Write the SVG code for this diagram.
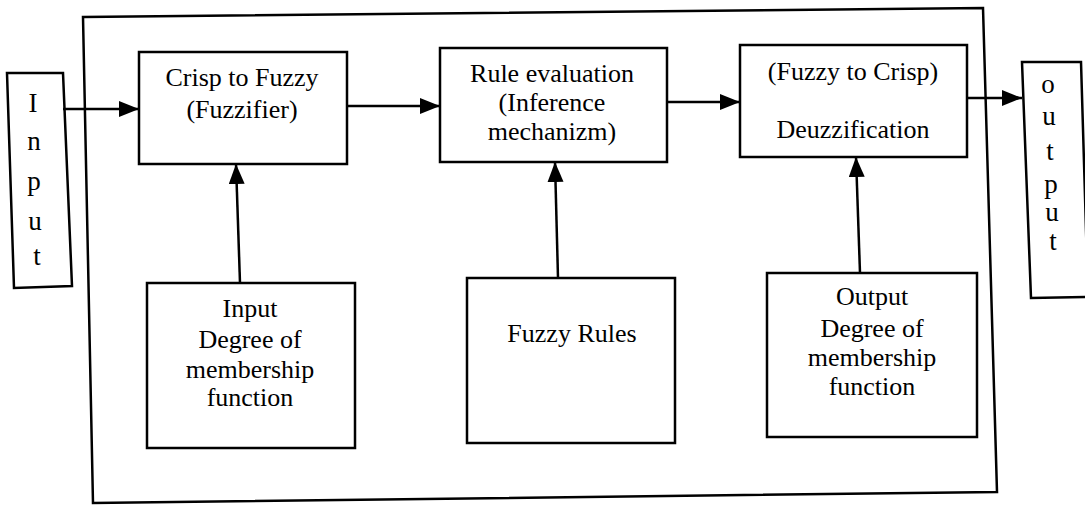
<svg xmlns="http://www.w3.org/2000/svg" width="1085" height="505" viewBox="0 0 1085 505">
<defs>
<marker id="ah" markerUnits="userSpaceOnUse" markerWidth="22" markerHeight="18" refX="20" refY="8" orient="auto">
<path d="M0,0 L20,8 L0,16 z" fill="#000"/>
</marker>
<style>
.box{fill:none;stroke:#000;stroke-width:2.5;stroke-linejoin:miter}
.t{font-family:"Liberation Serif","Times New Roman",serif;font-size:26px;fill:#000;text-anchor:middle}
.v{font-family:"Liberation Serif","Times New Roman",serif;font-size:27px;fill:#000;text-anchor:middle}
.c{fill:none;stroke:#000;stroke-width:2.5}
</style>
</defs>
<rect width="1085" height="505" fill="#fff"/>
<g id="frame">
<polygon class="box" points="83,17 983,8 997,492 93,503"/>
</g>
<g id="input">
<polygon class="box" points="7,73 63,73 72,286 14,288"/>
<text class="v" x="33" y="112">I</text>
<text class="v" x="34" y="150">n</text>
<text class="v" x="34" y="190">p</text>
<text class="v" x="35" y="230">u</text>
<text class="v" x="37" y="265">t</text>
</g>
<g id="fuzzifier">
<rect class="box" x="139" y="52" width="208" height="112"/>
<text class="t" x="242" y="86">Crisp to Fuzzy</text>
<text class="t" x="242" y="118">(Fuzzifier)</text>
</g>
<g id="rule-eval">
<rect class="box" x="440" y="48" width="227" height="114"/>
<text class="t" x="552" y="82">Rule evaluation</text>
<text class="t" x="552" y="111">(Inference</text>
<text class="t" x="552" y="140">mechanizm)</text>
</g>
<g id="defuzz">
<rect class="box" x="740" y="45" width="227" height="112"/>
<text class="t" x="853" y="80">(Fuzzy to Crisp)</text>
<text class="t" x="853" y="138">Deuzzification</text>
</g>
<g id="output">
<polygon class="box" points="1022,62 1081,62 1088,297 1031,298"/>
<text class="v" x="1048" y="93">o</text>
<text class="v" x="1049" y="125">u</text>
<text class="v" x="1050" y="160">t</text>
<text class="v" x="1051" y="193">p</text>
<text class="v" x="1052" y="221">u</text>
<text class="v" x="1053" y="250">t</text>
</g>
<g id="input-mf">
<rect class="box" x="147" y="283" width="208" height="165"/>
<text class="t" x="250" y="317">Input</text>
<text class="t" x="250" y="348">Degree of</text>
<text class="t" x="250" y="378">membership</text>
<text class="t" x="250" y="406">function</text>
</g>
<g id="fuzzy-rules">
<rect class="box" x="467" y="278" width="208" height="165"/>
<text class="t" x="572" y="342">Fuzzy Rules</text>
</g>
<g id="output-mf">
<rect class="box" x="767" y="273" width="210" height="164"/>
<text class="t" x="872" y="305">Output</text>
<text class="t" x="872" y="337">Degree of</text>
<text class="t" x="872" y="366">membership</text>
<text class="t" x="872" y="395">function</text>
</g>
<g id="connectors">
<line class="c" x1="63" y1="109" x2="139" y2="109" marker-end="url(#ah)"/>
<line class="c" x1="347" y1="106" x2="440" y2="106" marker-end="url(#ah)"/>
<line class="c" x1="667" y1="102" x2="740" y2="102" marker-end="url(#ah)"/>
<line class="c" x1="967" y1="98" x2="1022" y2="98" stroke-width="1.5" marker-end="url(#ah)"/>
<line class="c" x1="240" y1="283" x2="236" y2="164" marker-end="url(#ah)"/>
<line class="c" x1="558" y1="278" x2="555" y2="162" marker-end="url(#ah)"/>
<line class="c" x1="860" y1="273" x2="856" y2="157" marker-end="url(#ah)"/>
</g>
</svg>
